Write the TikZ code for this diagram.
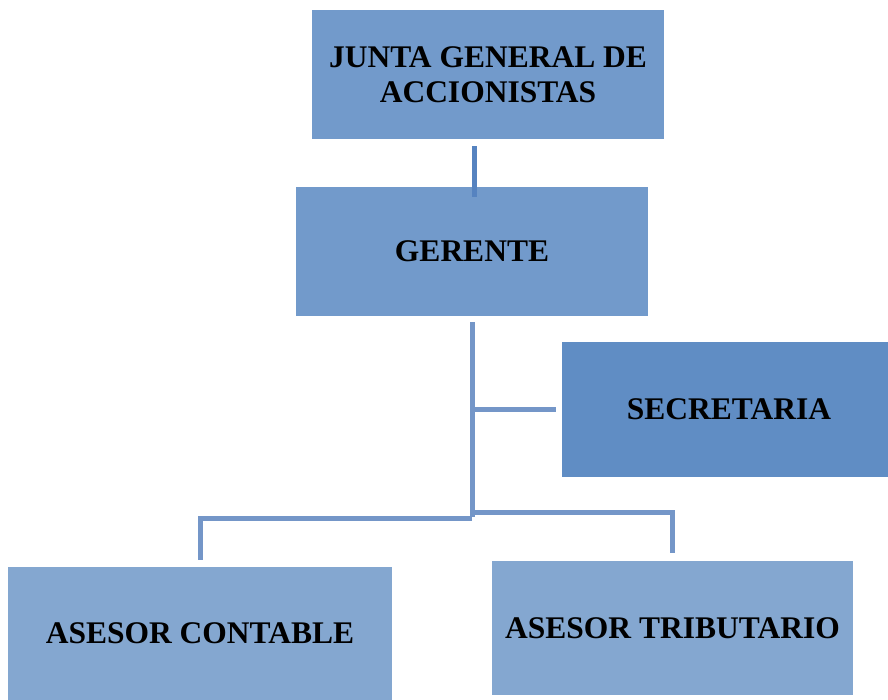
\documentclass[tikz,border=0pt]{standalone}
\usepackage{fontspec}
\setmainfont{Liberation Serif}
\definecolor{boxA}{HTML}{729ACB}
\definecolor{boxS}{HTML}{608DC4}
\definecolor{boxB}{HTML}{84A7D0}
\definecolor{lineC}{HTML}{7496C8}
\definecolor{lineT}{HTML}{5683C0}
\begin{document}
\begin{tikzpicture}[x=1pt,y=-1pt,
  orgbox/.style={rectangle,inner sep=0pt,align=center,
    font=\fontsize{31.5}{33}\selectfont\bfseries,text=black},
  conn/.style={draw=lineC,line width=5pt}]
\useasboundingbox (0,0) rectangle (888,700);
\fill[white] (0,0) rectangle (888,700);
\node[orgbox,fill=boxA,minimum width=352pt,minimum height=129pt] (junta) at (488,74.5) {JUNTA GENERAL DE\\[2pt]ACCIONISTAS};
\node[orgbox,fill=boxA,minimum width=352pt,minimum height=129pt] (gerente) at (472,251.5) {GERENTE};
\node[orgbox,fill=boxS,minimum width=326pt,minimum height=135pt] (secretaria) at (725,409.5) {\hspace{8pt}SECRETARIA};
\node[orgbox,fill=boxB,minimum width=384pt,minimum height=133pt] (contable) at (200,633.5) {ASESOR CONTABLE};
\node[orgbox,fill=boxB,minimum width=361pt,minimum height=134pt] (tributario) at (672.5,628) {ASESOR TRIBUTARIO};
\coordinate (hub) at (472,517);
\draw[draw=lineT,line width=5pt] ([xshift=-14pt,yshift=-7pt]junta.south) -- ([xshift=2pt,yshift=-10pt]gerente.north);
\draw[conn] ([yshift=-6pt]gerente.south) -- (hub);
\draw[conn] (hub |- secretaria.west) -- ([xshift=-6pt]secretaria.west);
\draw[conn] ([yshift=-1pt]hub) -| ([yshift=7pt]contable.north);
\draw[conn] ([yshift=5pt]hub) -| ([yshift=8pt]tributario.north);
\end{tikzpicture}
\end{document}
